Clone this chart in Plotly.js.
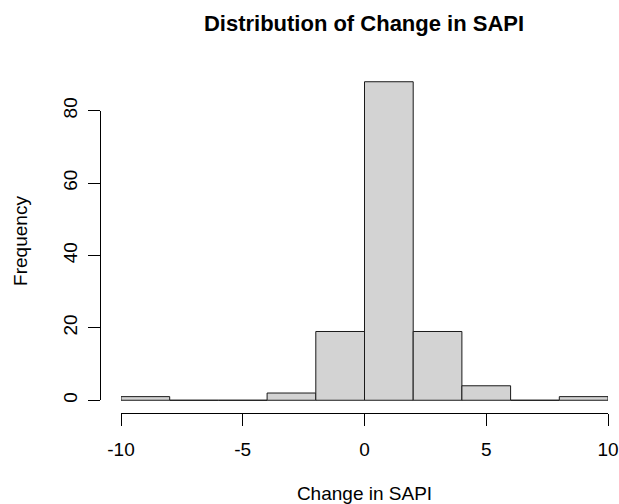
<!DOCTYPE html>
<html>
<head>
<meta charset="utf-8">
<script src="https://cdn.plot.ly/plotly-3.0.1.min.js"></script>
<style>html,body{margin:0;padding:0;background:#fff;}#chart{width:619px;height:504px;}</style>
</head>
<body>
<div id="chart"></div>
<script>
// Histogram bins (left edges, width 2) and counts
const binStarts = [-10, -8, -6, -4, -2, 0, 2, 4, 6, 8];
const binWidth = 2;
const counts = [1, 0, 0, 2, 19, 88, 19, 4, 0, 1];
const xTicks = [-10, -5, 0, 5, 10];
const xTickLabels = ['-10', '-5', '0', '5', '10'];
const yTicks = [0, 20, 40, 60, 80];
const yTickLabels = ['0', '20', '40', '60', '80'];

const FONT = 'Liberation Sans, Arial, Helvetica, sans-serif';
const centers = binStarts.map(s => s + binWidth / 2);

const traces = [
  {
    type: 'bar',
    x: centers,
    y: counts,
    width: binStarts.map(() => binWidth),
    marker: {color: '#d3d3d3', line: {color: '#1a1a1a', width: 1}},
    hoverinfo: 'x+y',
    xaxis: 'x', yaxis: 'y'
  },
  {
    // helper trace so the y axis line (0..80) is drawn like R's axis()
    type: 'scatter', x: [], y: [], xaxis: 'x', yaxis: 'y2', showlegend: false, hoverinfo: 'skip'
  }
];

const layout = {
  width: 619, height: 504,
  margin: {l: 100, r: 0, t: 69, b: 91, pad: 0},
  paper_bgcolor: '#ffffff', plot_bgcolor: 'rgba(0,0,0,0)',
  showlegend: false,
  bargap: 0,
  font: {family: FONT, size: 19, color: '#000'},
  title: {
    text: '<b>Distribution of Change in SAPI</b>',
    font: {family: FONT, size: 22, color: '#000'},
    xref: 'container', x: 364 / 619, xanchor: 'center',
    yref: 'container', y: 1 - 23 / 504, yanchor: 'middle'
  },
  xaxis: {
    domain: [21 / 519, 508 / 519],
    range: [-10, 10],
    anchor: 'y',
    showgrid: false, zeroline: false,
    showline: true, linecolor: '#000', linewidth: 1,
    ticks: 'outside', ticklen: 12, tickwidth: 1, tickcolor: '#000',
    tickvals: xTicks, ticktext: xTickLabels,
    ticklabelstandoff: 7,
    tickfont: {family: FONT, size: 19, color: '#000'},
    title: {text: 'Change in SAPI', font: {family: FONT, size: 19, color: '#000'}, standoff: 30}
  },
  yaxis: {
    domain: [0, 1],
    range: [-3.52, 91.52],
    anchor: 'free', position: 0,
    showgrid: false, zeroline: false, showline: false,
    ticks: 'outside', ticklen: 12, tickwidth: 1, tickcolor: '#000',
    tickvals: yTicks, ticktext: yTickLabels, tickangle: -90,
    ticklabelstandoff: 3,
    tickfont: {family: FONT, size: 19, color: '#000'},
    title: {text: 'Frequency', font: {family: FONT, size: 19, color: '#000'}, standoff: 26}
  },
  yaxis2: {
    domain: [12.7 / 344, 302.3 / 344],
    range: [0, 80],
    anchor: 'free', position: 0,
    showgrid: false, zeroline: false,
    showline: true, linecolor: '#000', linewidth: 1,
    ticks: '', showticklabels: false
  }
};

Plotly.newPlot('chart', traces, layout, {displayModeBar: false, staticPlot: true});
</script>
</body>
</html>
